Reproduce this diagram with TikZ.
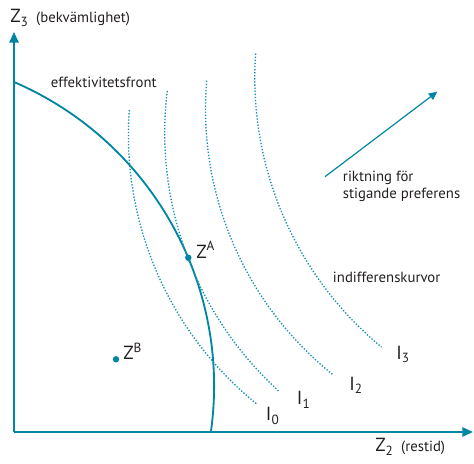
\documentclass[tikz,border=0pt]{standalone}
\usepackage{fontspec}
\setmainfont{PT Sans}
\usepackage{tikz}
\usetikzlibrary{arrows.meta, positioning}
\definecolor{curveteal}{RGB}{0,133,163}
\definecolor{dotteal}{RGB}{20,145,180}
\definecolor{labelgray}{RGB}{35,31,32}

\begin{document}
\begin{tikzpicture}[
    x=0.025cm, y=0.025cm,
    axis/.style={draw=curveteal, line width=1.4pt, -{Triangle[length=7.5pt, width=6.5pt]}},
    front/.style={draw=curveteal, line width=1.3pt},
    indiff/.style={draw=dotteal, line width=0.95pt, dash pattern=on 0.95pt off 1.25pt},
    dirarrow/.style={draw=curveteal, line width=0.85pt, -{Triangle[length=6pt, width=5.5pt]}},
    lbl/.style={inner sep=0pt, anchor=base west, text=labelgray, font=\fontsize{10.5}{11.6}\selectfont},
    zlbl/.style={inner sep=0pt, anchor=base west, text=labelgray, font=\fontsize{13.5}{15}\selectfont},
    pt/.style={circle, fill=curveteal, inner sep=0pt, minimum size=4.6pt}
]
\useasboundingbox (-14,-32) rectangle (460,432);

\coordinate (origin) at (0,0);
\coordinate (xend) at (459,0);
\coordinate (yend) at (0,400);
\draw[axis] (origin) -- (xend);
\draw[axis] (origin) -- (yend);

\draw[front] (0,350) arc[start angle=66.7, end angle=-8, radius=331];

\draw[indiff] (460.7,297.1) ++(175.9:346.3) arc[start angle=175.9, end angle=231.0, radius=346.3];
\draw[indiff] (500,299.1) ++(173.1:349.3) arc[start angle=173.1, end angle=227.6, radius=349.3];
\draw[indiff] (531.9,322.8) ++(175.2:340.4) arc[start angle=175.2, end angle=231.3, radius=340.4];
\draw[indiff] (590.3,354.1) ++(176.0:349.5) arc[start angle=176.0, end angle=230.4, radius=349.5];

\path (-130.8,46) ++(22.8:331) node[pt] (zA) {};
\node[pt] (zB) at (102,72.7) {};
\node[zlbl] (zAlbl) at (182,173.7) {Z\textsuperscript{A}};
\node[zlbl] (zBlbl) at (109,72) {Z\textsuperscript{B}};

\node[zlbl] (ylbl) at (-4,409) {Z\textsubscript{3}\hspace{0.4em}{\fontsize{10.5}{12}\selectfont(bekvämlighet)}};
\node[zlbl] (xlbl) at (361,-20) {Z\textsubscript{2}\hspace{0.4em}{\fontsize{10.5}{12}\selectfont(restid)}};

\node[lbl] (frontlbl) at (36.7,344) {effektivitetsfront};
\node[lbl] (indifflbl) at (318.7,149) {indifferenskurvor};
\node[lbl, anchor=north west, align=left] (dirlbl) at (328.7,261) {riktning för\\stigande preferens};

\node[zlbl] (i0) at (251.7,11) {I\textsubscript{0}};
\node[zlbl] (i1) at (282.7,27) {I\textsubscript{1}};
\node[zlbl] (i2) at (335,41.3) {I\textsubscript{2}};
\node[zlbl] (i3) at (382,72.7) {I\textsubscript{3}};

\coordinate (dirstart) at (311,255.3);
\coordinate (dirend) at (423.3,340.3);
\draw[dirarrow] (dirstart) -- (dirend);
\end{tikzpicture}
\end{document}
